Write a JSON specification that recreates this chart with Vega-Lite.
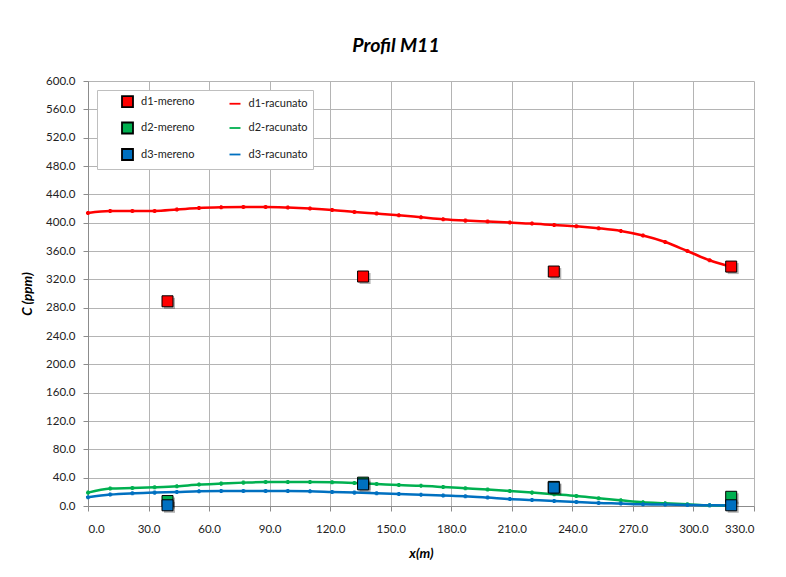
{
  "$schema": "https://vega.github.io/schema/vega-lite/v6.json",
  "autosize": "none",
  "width": 666,
  "height": 425,
  "padding": {"left": 88, "top": 81, "right": 32, "bottom": 71},
  "background": "white",
  "title": {"text": "Profil M11", "anchor": "middle", "dx": -25, "offset": 19, "font": "Lato", "fontSize": 19.5, "fontWeight": "bold", "fontStyle": "italic", "color": "#000"},
  "config": {
    "view": {"stroke": null},
    "axis": {"labelFont": "Lato", "labelFontSize": 11.5, "labelColor": "#222", "titleFont": "Lato", "titleFontSize": 13.5, "titleFontWeight": "bold", "titleFontStyle": "italic", "titleColor": "#000", "domainColor": "#8c8c8c", "tickColor": "#8c8c8c", "gridColor": "#b4b4b4", "tickSize": 5, "labelPadding": 8},
    "legend": {"title": null, "orient": "top-left", "offset": 9, "direction": "vertical", "columns": 2, "symbolOffset": 19, "labelOffset": 7, "columnPadding": 14.5, "rowPadding": 7.5, "padding": 5, "fillColor": "white", "strokeColor": "#bfbfbf", "labelFont": "Lato", "labelFontSize": 11, "labelColor": "#222", "symbolOpacity": 1, "symbolStrokeWidth": 1.8}
  },
  "datasets": {
    "calc": [
      {"x":0,"series":"d1-racunato","c":413.7},{"x":11,"series":"d1-racunato","c":416.5},{"x":22,"series":"d1-racunato","c":416.5},{"x":33,"series":"d1-racunato","c":416.5},{"x":44,"series":"d1-racunato","c":418.5},{"x":55,"series":"d1-racunato","c":420.7},{"x":66,"series":"d1-racunato","c":421.7},{"x":77,"series":"d1-racunato","c":422.1},{"x":88,"series":"d1-racunato","c":422.1},{"x":99,"series":"d1-racunato","c":421.3},{"x":110,"series":"d1-racunato","c":419.9},{"x":121,"series":"d1-racunato","c":417.9},{"x":132,"series":"d1-racunato","c":415.1},{"x":143,"series":"d1-racunato","c":412.8},{"x":154,"series":"d1-racunato","c":410.4},{"x":165,"series":"d1-racunato","c":407.6},{"x":176,"series":"d1-racunato","c":404.8},{"x":187,"series":"d1-racunato","c":402.9},{"x":198,"series":"d1-racunato","c":401.5},{"x":209,"series":"d1-racunato","c":400.1},{"x":220,"series":"d1-racunato","c":398.7},{"x":231,"series":"d1-racunato","c":396.7},{"x":242,"series":"d1-racunato","c":394.9},{"x":253,"series":"d1-racunato","c":392.1},{"x":264,"series":"d1-racunato","c":388.3},{"x":275,"series":"d1-racunato","c":381.8},{"x":286,"series":"d1-racunato","c":372.7},{"x":297,"series":"d1-racunato","c":360.0},{"x":308,"series":"d1-racunato","c":346.9},{"x":319,"series":"d1-racunato","c":337.4},
      {"x":0,"series":"d2-racunato","c":18.9},{"x":11,"series":"d2-racunato","c":24.6},{"x":22,"series":"d2-racunato","c":25.4},{"x":33,"series":"d2-racunato","c":26.4},{"x":44,"series":"d2-racunato","c":27.8},{"x":55,"series":"d2-racunato","c":30.2},{"x":66,"series":"d2-racunato","c":31.6},{"x":77,"series":"d2-racunato","c":33.0},{"x":88,"series":"d2-racunato","c":33.9},{"x":99,"series":"d2-racunato","c":33.9},{"x":110,"series":"d2-racunato","c":33.9},{"x":121,"series":"d2-racunato","c":33.5},{"x":132,"series":"d2-racunato","c":32.5},{"x":143,"series":"d2-racunato","c":31.1},{"x":154,"series":"d2-racunato","c":29.6},{"x":165,"series":"d2-racunato","c":28.5},{"x":176,"series":"d2-racunato","c":26.8},{"x":187,"series":"d2-racunato","c":25.0},{"x":198,"series":"d2-racunato","c":23.2},{"x":209,"series":"d2-racunato","c":21.2},{"x":220,"series":"d2-racunato","c":18.9},{"x":231,"series":"d2-racunato","c":16.5},{"x":242,"series":"d2-racunato","c":14.1},{"x":253,"series":"d2-racunato","c":10.9},{"x":264,"series":"d2-racunato","c":8.0},{"x":275,"series":"d2-racunato","c":5.2},{"x":286,"series":"d2-racunato","c":3.8},{"x":297,"series":"d2-racunato","c":2.4},{"x":308,"series":"d2-racunato","c":1.0},{"x":319,"series":"d2-racunato","c":0.6},
      {"x":0,"series":"d3-racunato","c":12.3},{"x":11,"series":"d3-racunato","c":16.1},{"x":22,"series":"d3-racunato","c":17.9},{"x":33,"series":"d3-racunato","c":18.9},{"x":44,"series":"d3-racunato","c":19.8},{"x":55,"series":"d3-racunato","c":20.8},{"x":66,"series":"d3-racunato","c":21.2},{"x":77,"series":"d3-racunato","c":21.2},{"x":88,"series":"d3-racunato","c":21.2},{"x":99,"series":"d3-racunato","c":21.2},{"x":110,"series":"d3-racunato","c":20.8},{"x":121,"series":"d3-racunato","c":19.8},{"x":132,"series":"d3-racunato","c":18.9},{"x":143,"series":"d3-racunato","c":17.9},{"x":154,"series":"d3-racunato","c":16.9},{"x":165,"series":"d3-racunato","c":15.8},{"x":176,"series":"d3-racunato","c":14.7},{"x":187,"series":"d3-racunato","c":13.7},{"x":198,"series":"d3-racunato","c":11.9},{"x":209,"series":"d3-racunato","c":9.9},{"x":220,"series":"d3-racunato","c":8.5},{"x":231,"series":"d3-racunato","c":7.1},{"x":242,"series":"d3-racunato","c":5.6},{"x":253,"series":"d3-racunato","c":4.2},{"x":264,"series":"d3-racunato","c":3.4},{"x":275,"series":"d3-racunato","c":2.4},{"x":286,"series":"d3-racunato","c":2.0},{"x":297,"series":"d3-racunato","c":1.4},{"x":308,"series":"d3-racunato","c":1.0},{"x":319,"series":"d3-racunato","c":0.6}
    ],
    "meas": [
      {"x":39.4,"series":"d1-mereno","c":289},{"x":136.3,"series":"d1-mereno","c":324},{"x":230.8,"series":"d1-mereno","c":331},{"x":318.7,"series":"d1-mereno","c":338},
      {"x":39.4,"series":"d2-mereno","c":7},{"x":136.3,"series":"d2-mereno","c":33},{"x":230.8,"series":"d2-mereno","c":27},{"x":318.7,"series":"d2-mereno","c":13},
      {"x":39.4,"series":"d3-mereno","c":1},{"x":136.3,"series":"d3-mereno","c":30.5},{"x":230.8,"series":"d3-mereno","c":26},{"x":318.7,"series":"d3-mereno","c":1}
    ]
  },
  "encoding": {
    "x": {"field": "x", "type": "quantitative", "scale": {"domain": [0, 330], "nice": false, "zero": false},
      "axis": {"values": [0,30,60,90,120,150,180,210,240,270,300,330], "format": ".1f", "title": "x(m)", "titlePadding": 12, "labelPadding": 12}},
    "y": {"field": "c", "type": "quantitative", "scale": {"domain": [0, 600], "nice": false},
      "axis": {"values": [0,40,80,120,160,200,240,280,320,360,400,440,480,520,560,600], "format": ".1f", "title": "C (ppm)", "titlePadding": 11}}
  },
  "layer": [
    {"data": {"name": "calc"}, "mark": {"type": "line", "interpolate": "monotone", "strokeWidth": 2.5},
      "encoding": {
        "stroke": {"field": "series", "type": "nominal",
          "scale": {"domain": ["d1-mereno","d2-mereno","d3-mereno","d1-racunato","d2-racunato","d3-racunato"], "range": ["#000000","#000000","#000000","#FF0000","#00B050","#0070C0"]}}
      }},
    {"data": {"name": "calc"}, "mark": {"type": "point", "shape": "cross", "filled": false, "size": 8, "strokeWidth": 1.2, "opacity": 1},
      "encoding": {"stroke": {"field": "series", "type": "nominal"}}},
    {"data": {"name": "meas"}, "mark": {"type": "square", "size": 121, "color": "#000", "opacity": 0.3, "xOffset": 2, "yOffset": 2}},
    {"data": {"name": "meas"}, "mark": {"type": "point", "filled": true, "opacity": 1, "strokeWidth": 1},
      "encoding": {
        "fill": {"field": "series", "type": "nominal",
          "scale": {"domain": ["d1-mereno","d2-mereno","d3-mereno","d1-racunato","d2-racunato","d3-racunato"], "range": ["#FF0000","#00B050","#0070C0","transparent","transparent","transparent"]}},
        "stroke": {"field": "series", "type": "nominal"},
        "shape": {"field": "series", "type": "nominal",
          "scale": {"domain": ["d1-mereno","d2-mereno","d3-mereno","d1-racunato","d2-racunato","d3-racunato"], "range": ["square","square","square","stroke","stroke","stroke"]}},
        "size": {"field": "series", "type": "nominal",
          "scale": {"domain": ["d1-mereno","d2-mereno","d3-mereno","d1-racunato","d2-racunato","d3-racunato"], "range": [121,121,121,530,530,530]}}
      }}
  ]
}
